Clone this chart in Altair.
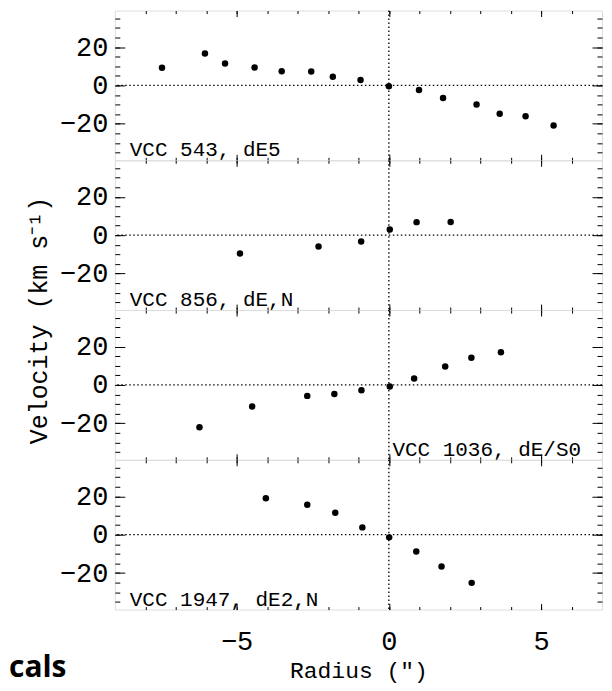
import altair as alt
import pandas as pd

# ---- data ----
r_543 = [-7.45, -6.04, -5.38, -4.41, -3.52, -2.55, -1.84, -0.93, 0.0, 0.99, 1.78, 2.88, 3.64, 4.49, 5.41]
v_543 = [9.2, 16.6, 11.4, 9.4, 7.4, 7.3, 4.5, 2.8, -0.4, -2.4, -6.6, -9.9, -14.7, -16.1, -20.9]
r_856 = [-4.89, -2.31, -0.91, 0.03, 0.91, 2.03]
v_856 = [-9.5, -5.9, -3.3, 3.0, 6.8, 6.9]
r_1036 = [-6.22, -4.49, -2.68, -1.79, -0.90, 0.03, 0.83, 1.85, 2.71, 3.68]
v_1036 = [-22.0, -11.2, -5.7, -4.7, -2.8, -0.8, 3.3, 9.6, 14.2, 17.0]
r_1947 = [-4.04, -2.68, -1.76, -0.87, 0.01, 0.90, 1.73, 2.72]
v_1947 = [19.0, 15.6, 11.4, 3.8, -1.4, -8.8, -16.6, -25.1]
panel_labels = ["VCC 543, dE5", "VCC 856, dE,N", "VCC 1036, dE/S0", "VCC 1947, dE2,N"]
x_major = [-5, 0, 5]
x_minor = list(range(-8, 7))
y_major = [-20, 0, 20]
y_minor = list(range(-35, 40, 5))
x_domain = [-9, 7]
y_domain = [-39, 39]
x_title = "Radius (\u2033)"
y_title = "Velocity (km s\u207b\u00b9)"
stray_text = "cals"

FONT = "Liberation Mono"
W, H = 488, 150

xs = alt.Scale(domain=x_domain, nice=False, zero=False)
ys = alt.Scale(domain=y_domain, nice=False, zero=False)


def ax(orient, values, size, labels=False, **kw):
    return alt.Axis(orient=orient, values=values, tickSize=size, offset=-size,
                    labels=labels, domain=False, grid=False, ticks=True,
                    tickColor="black", tickWidth=1, minExtent=0, **kw)


def panel(r, v, label, label_right, bottom, ytitle):
    df = pd.DataFrame({"r": r, "v": v})
    hrule = alt.Chart(pd.DataFrame({"y0": [0]})).mark_rule(
        color="black", strokeDash=[1.5, 2.5], strokeWidth=1.3
    ).encode(y=alt.Y("y0:Q", scale=ys, title=None, axis=ax("left", y_minor, 5)))
    vrule = alt.Chart(pd.DataFrame({"x0": [0]})).mark_rule(
        color="black", strokeDash=[1.5, 2.5], strokeWidth=1.3
    ).encode(x=alt.X("x0:Q", scale=xs, title=None, axis=ax("bottom", x_minor, 3)))
    ghost1 = alt.Chart(df).mark_circle(opacity=0).encode(
        x=alt.X("r:Q", scale=xs, title=None, axis=ax("top", x_major, 6)),
        y=alt.Y("v:Q", scale=ys, title=None, axis=ax("right", y_major, 10)),
    )
    ghost2 = alt.Chart(df).mark_circle(opacity=0).encode(
        x=alt.X("r:Q", scale=xs, title=None, axis=ax("top", x_minor, 3)),
        y=alt.Y("v:Q", scale=ys, title=None, axis=ax("right", y_minor, 5)),
    )
    if bottom:
        xaxis = ax("bottom", x_major, 6, labels=True, labelPadding=40,
                   labelBaseline="alphabetic",
                   labelFont=FONT, labelFontSize=27, labelColor="black",
                   titleFont=FONT, titleFontSize=23, titleFontWeight="normal",
                   titleColor="black", titleBaseline="alphabetic", titleY=74)
        xt = x_title
    else:
        xaxis = ax("bottom", x_major, 6)
        xt = None
    if ytitle:
        yaxis = ax("left", y_major, 10, labels=True, labelPadding=7,
                   labelFont=FONT, labelFontSize=27, labelColor="black",
                   titleFont=FONT, titleFontSize=25, titleFontWeight="normal",
                   titleColor="black", titleBaseline="alphabetic", titleAngle=270,
                   titleAlign="center", titleX=-78, titleY=160)
        yt = y_title
    else:
        yaxis = ax("left", y_major, 10, labels=True, labelPadding=7,
                   labelFont=FONT, labelFontSize=27, labelColor="black")
        yt = None
    pts = alt.Chart(df).mark_circle(size=42, color="black", opacity=1).encode(
        x=alt.X("r:Q", scale=xs, title=xt, axis=xaxis),
        y=alt.Y("v:Q", scale=ys, title=yt, axis=yaxis),
    )
    txt = alt.Chart(pd.DataFrame({"label": [label]})).mark_text(
        font=FONT, fontSize=21, color="black", baseline="alphabetic",
        align="right" if label_right else "left",
    ).encode(
        x=alt.value(W - 21 if label_right else 15),
        y=alt.value(146),
        text="label:N",
    )
    layers = [hrule, vrule, ghost1, ghost2, pts, txt]
    if bottom:
        stray = alt.Chart(pd.DataFrame({"t": [stray_text]})).mark_text(
            font="Open Sans", fontSize=30, fontWeight="bold", color="black",
            align="left", baseline="alphabetic",
        ).encode(x=alt.value(-106), y=alt.value(218), text="t:N")
        layers.append(stray)
    return alt.layer(*layers).resolve_axis(x="independent", y="independent").properties(
        width=W, height=H)


p1 = panel(r_543, v_543, panel_labels[0], False, False, False)
p2 = panel(r_856, v_856, panel_labels[1], False, False, True)
p3 = panel(r_1036, v_1036, panel_labels[2], True, False, False)
p4 = panel(r_1947, v_1947, panel_labels[3], False, True, False)

chart = alt.vconcat(p1, p2, p3, p4, spacing=0, bounds="flush").properties(
    padding={"left": 0, "top": 0, "right": 0, "bottom": 0}
).configure_view(stroke="#222", strokeWidth=1.6).configure(background="white")

chart.save("out.html", embed_options={"renderer": "svg", "actions": False})
